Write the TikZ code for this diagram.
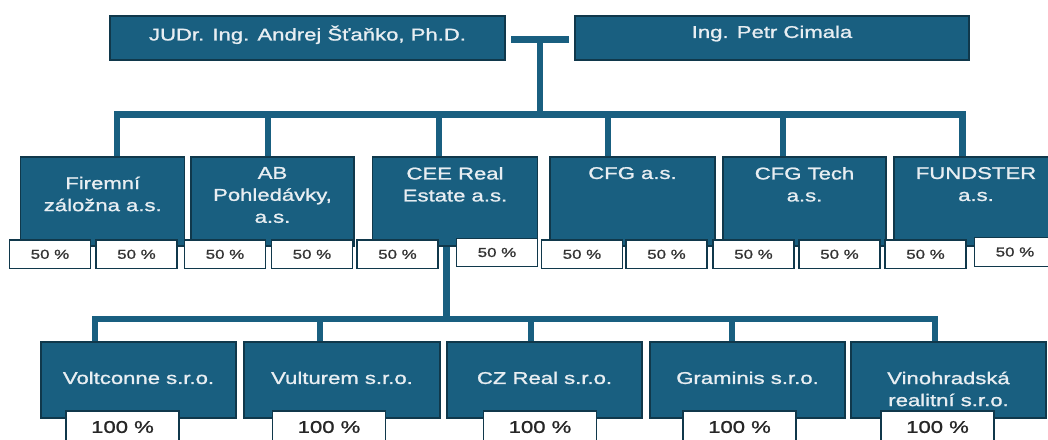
\documentclass[tikz,border=0pt]{standalone}
\usepackage{fontspec}
\setmainfont{Liberation Sans}[FakeStretch=1.3, FakeBold=1.2]
\usetikzlibrary{positioning}
\definecolor{orgblue}{HTML}{195F80}
\definecolor{orgedge}{HTML}{10384B}
\definecolor{orgwhite}{HTML}{E8EEF2}

\begin{document}
\begin{tikzpicture}[x=1pt, y=-1pt,
  orgbox/.style={rectangle, draw=orgedge, line width=1.2pt, fill=orgblue, inner sep=0pt},
  orgtext/.style={text=orgwhite, align=center, inner sep=0pt, anchor=north,
                font=\fontsize{17}{22}\selectfont},
  pctbox/.style={rectangle, draw=orgedge, line width=1.2pt, fill=white,
                minimum width=81pt, minimum height=28.5pt, inner sep=0pt,
                font=\fontsize{13}{15}\selectfont, text=black!80},
  fullbox/.style={rectangle, draw=orgedge, line width=1.2pt, fill=white,
                minimum width=113pt, minimum height=32pt, inner sep=0pt,
                font=\fontsize{17}{20}\selectfont, text=black!85},
  link/.style={draw=orgblue, line width=6.5pt}
]
\useasboundingbox (0,0) rectangle (1048,439);
\clip (0,0) rectangle (1048,439);

% === Owners ===
\node[orgbox, minimum width=395pt, minimum height=44pt] (judr)   at (307.5, 38) {};
\node[orgtext, below=10pt of judr.north] (judr-t) {JUDr. Ing. Andrej Šťaňko, Ph.D.};

\node[orgbox, minimum width=394pt, minimum height=44pt] (cimala) at (772, 38) {};
\node[orgtext, below=10pt of cimala.north] (cimala-t) {Ing. Petr Cimala};

% === Companies (middle row) ===
\node[orgbox, minimum width=164pt, minimum height=89pt] (firemni)  at (102.75, 201.5) {};
\node[orgtext, below=20pt of firemni.north] (firemni-t) {Firemní\\záložna a.s.};

\node[orgbox, minimum width=163pt, minimum height=89pt] (ab)       at (272.5, 201.5) {};
\node[orgtext, below=10.5pt of ab.north] (ab-t) {AB\\Pohledávky,\\a.s.};

\node[orgbox, minimum width=165pt, minimum height=89pt] (cee)      at (455, 201.5) {};
\node[orgtext, below=10.5pt of cee.north] (cee-t) {CEE Real\\Estate a.s.};

\node[orgbox, minimum width=165pt, minimum height=89pt] (cfg)      at (632.5, 201.5) {};
\node[orgtext, below=10.5pt of cfg.north] (cfg-t) {CFG a.s.};

\node[orgbox, minimum width=163pt, minimum height=89pt] (cfgtech)  at (804.5, 201.5) {};
\node[orgtext, below=10.5pt of cfgtech.north] (cfgtech-t) {CFG Tech\\a.s.};

\node[orgbox, minimum width=164pt, minimum height=89pt] (fundster) at (976, 201.5) {};
\node[orgtext, below=10.5pt of fundster.north] (fundster-t) {FUNDSTER\\a.s.};

% === Shares of the owners ===
\node[pctbox] (p1a) at (50, 254.3)    {50 \%};
\node[pctbox] (p1b) at (136.5, 254.3) {50 \%};
\node[pctbox] (p2a) at (225, 254.3)   {50 \%};
\node[pctbox] (p2b) at (312, 254.3)   {50 \%};
\node[pctbox] (p3a) at (397.5, 254.3) {50 \%};
\node[pctbox] (p3b) at (497, 252.5)   {50 \%};
\node[pctbox] (p4a) at (582, 254.3)   {50 \%};
\node[pctbox] (p4b) at (666.5, 254.3) {50 \%};
\node[pctbox] (p5a) at (753.5, 254.3) {50 \%};
\node[pctbox] (p5b) at (839.5, 254.3) {50 \%};
\node[pctbox] (p6a) at (925.5, 254.3) {50 \%};
\node[pctbox] (p6b) at (1015, 252)    {50 \%};

% === Subsidiaries of CEE Real Estate ===
\node[orgbox, minimum width=195pt, minimum height=76pt] (voltconne)   at (138.5, 380) {};
\node[orgtext, below=30pt of voltconne.north] (voltconne-t) {Voltconne s.r.o.};

\node[orgbox, minimum width=196pt, minimum height=76pt] (vulturem)    at (342, 380) {};
\node[orgtext, below=30pt of vulturem.north] (vulturem-t) {Vulturem s.r.o.};

\node[orgbox, minimum width=195pt, minimum height=76pt] (czreal)      at (544.5, 380) {};
\node[orgtext, below=30pt of czreal.north] (czreal-t) {CZ Real s.r.o.};

\node[orgbox, minimum width=195pt, minimum height=76pt] (graminis)    at (747.5, 380) {};
\node[orgtext, below=30pt of graminis.north] (graminis-t) {Graminis s.r.o.};

\node[orgbox, minimum width=195pt, minimum height=76pt] (vinohradska) at (948.5, 380) {};
\node[orgtext, below=30pt of vinohradska.north] (vinohradska-t) {Vinohradská\\realitní s.r.o.};

\node[fullbox] (q1) at (122.5, 427) {100 \%};
\node[fullbox] (q2) at (329, 427)   {100 \%};
\node[fullbox] (q3) at (540, 427)   {100 \%};
\node[fullbox] (q4) at (739.5, 427) {100 \%};
\node[fullbox] (q5) at (937.5, 427) {100 \%};

% === Connectors ===
\coordinate (tleft)  at (511, 39.5);
\coordinate (tright) at (569, 39.5);
\coordinate (hub)    at (540, 114.5);
\draw[link] (tleft) -- (tright);
\draw[link] (hub |- tleft) -- (hub);

\draw[link] ([xshift=14.25pt]firemni.north) |- (hub) -| ([xshift=-13.5pt]fundster.north);
\draw[link] ([xshift=-4.5pt]ab.north) |- (hub);
\draw[link] ([xshift=-16pt]cee.north) |- (hub);
\draw[link] ([xshift=-24.5pt]cfg.north) |- (hub);
\draw[link] ([xshift=-21.5pt]cfgtech.north) |- (hub);

\coordinate (lowhub) at (446.5, 319);
\draw[link] ([xshift=-8.5pt]cee.south) -- (lowhub);
\draw[link] ([xshift=-43.5pt]voltconne.north) |- (lowhub) -| ([xshift=-13.5pt]vinohradska.north);
\draw[link] ([xshift=-22pt]vulturem.north) |- (lowhub);
\draw[link] ([xshift=-13.5pt]czreal.north) |- (lowhub);
\draw[link] ([xshift=-15.5pt]graminis.north) |- (lowhub);

\end{tikzpicture}
\end{document}
